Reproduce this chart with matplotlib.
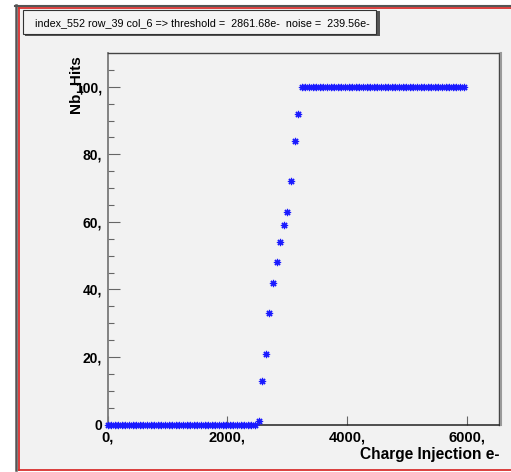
import matplotlib
matplotlib.use("Agg")
import matplotlib.pyplot as plt
from matplotlib.lines import Line2D
from matplotlib.patches import Rectangle

# ─── data: S-curve of one pixel ───
charge = [
    0, 60, 120, 180, 240, 300, 360, 420, 480, 540,
    600, 660, 720, 780, 840, 900, 960, 1020, 1080, 1140,
    1200, 1260, 1320, 1380, 1440, 1500, 1560, 1620, 1680, 1740,
    1800, 1860, 1920, 1980, 2040, 2100, 2160, 2220, 2280, 2340,
    2400, 2460, 2520, 2580, 2640, 2700, 2760, 2820, 2880, 2940,
    3000, 3060, 3120, 3180, 3240, 3300, 3360, 3420, 3480, 3540,
    3600, 3660, 3720, 3780, 3840, 3900, 3960, 4020, 4080, 4140,
    4200, 4260, 4320, 4380, 4440, 4500, 4560, 4620, 4680, 4740,
    4800, 4860, 4920, 4980, 5040, 5100, 5160, 5220, 5280, 5340,
    5400, 5460, 5520, 5580, 5640, 5700, 5760, 5820, 5880, 5940,
]
hits = [
    0, 0, 0, 0, 0, 0, 0, 0, 0, 0,
    0, 0, 0, 0, 0, 0, 0, 0, 0, 0,
    0, 0, 0, 0, 0, 0, 0, 0, 0, 0,
    0, 0, 0, 0, 0, 0, 0, 0, 0, 0,
    0, 0, 1, 13, 21, 33, 42, 48, 54, 59,
    63, 72, 84, 92, 100, 100, 100, 100, 100, 100,
    100, 100, 100, 100, 100, 100, 100, 100, 100, 100,
    100, 100, 100, 100, 100, 100, 100, 100, 100, 100,
    100, 100, 100, 100, 100, 100, 100, 100, 100, 100,
    100, 100, 100, 100, 100, 100, 100, 100, 100, 100,
]
x_ticks = [0, 2000, 4000, 6000]
x_labels = ["0,", "2000,", "4000,", "6000,"]
y_ticks = [0, 20, 40, 60, 80, 100]
y_labels = ["0", "20,", "40,", "60,", "80,", "100,"]
title = "index_552 row_39 col_6 => threshold =  2861.68e-  noise =  239.56e-"

# ─── colours ───
BG = "#f2f2f2"
RED = "#d8302e"
BLUE = "#1a1aff"
FRAME = "#333333"

W, H = 511, 472
plt.rcParams["font.family"] = ["Liberation Sans", "DejaVu Sans"]


def fx(px):
    return px / W


def fy(py):
    return 1 - py / H


fig = plt.figure(figsize=(W / 100, H / 100), dpi=100, facecolor="white")

# canvas background + borders (ROOT style)
fig.add_artist(Rectangle((fx(16), fy(470)), fx(W) - fx(16), fy(5) - fy(470),
                         transform=fig.transFigure, fc=BG, ec="none", zorder=0))
fig.add_artist(Line2D([fx(15.5), fx(15.5)], [fy(5), fy(470)], transform=fig.transFigure,
                      color="#555555", lw=1.8, zorder=1))
fig.add_artist(Line2D([fx(15), fx(W)], [fy(5.5), fy(5.5)], transform=fig.transFigure,
                      color="#555555", lw=1.5, zorder=1))
fig.add_artist(Line2D([fx(18.5), fx(18.5)], [fy(7.5), fy(469.5)], transform=fig.transFigure,
                      color=RED, lw=1.3, zorder=1))
fig.add_artist(Line2D([fx(18.5), fx(W)], [fy(7.5), fy(7.5)], transform=fig.transFigure,
                      color=RED, lw=1.3, zorder=1))
fig.add_artist(Line2D([fx(18.5), fx(W)], [fy(469.5), fy(469.5)], transform=fig.transFigure,
                      color=RED, lw=1.3, zorder=1))

# title pave with shadow
fig.add_artist(Rectangle((fx(25), fy(35.5)), fx(378) - fx(23), fy(11) - fy(35.5),
                         transform=fig.transFigure, fc="#555555", ec="none", zorder=2))
fig.add_artist(Rectangle((fx(23), fy(34)), fx(376) - fx(23), fy(10) - fy(34),
                         transform=fig.transFigure, fc="#f4f4f4", ec=FRAME, lw=0.8, zorder=3))
fig.text(fx(202), fy(23), title, fontsize=7.75, ha="center", va="center",
         color="black", zorder=4)

# ─── axes ───
ax = fig.add_axes([fx(107.5), fy(424.5), fx(499.3) - fx(107.5), fy(53) - fy(424.5)])
ax.set_facecolor(BG)
ax.set_xlim(0, 6534)
ax.set_ylim(0, 110)

ax.plot(charge, hits, ls="none", marker=(8, 2, 0), ms=5.2, mew=0.85,
        color=BLUE, clip_on=False, zorder=5)

for side, col, lw in [("left", "#7a7a7a", 1.3), ("bottom", "#222222", 1.1),
                      ("top", "#444444", 1.0), ("right", "#444444", 1.0)]:
    ax.spines[side].set_color(col)
    ax.spines[side].set_linewidth(lw)
fig.add_artist(Line2D([fx(500.5), fx(500.5)], [fy(424.5), fy(53)], transform=fig.transFigure,
                      color="#9a9a9a", lw=1.5, zorder=1))

ax.set_xticks(x_ticks)
ax.set_xticklabels(x_labels, fontweight="bold", fontsize=10.5)
ax.set_yticks(y_ticks)
ax.set_yticklabels(y_labels, fontweight="bold", fontsize=10)
ax.set_yticks(range(5, 110, 5), minor=True)
ax.tick_params(axis="x", direction="in", length=6.5, width=0.8, color="#666666", pad=4)
ax.tick_params(axis="y", which="major", direction="in", length=8.5, width=0.8,
               color="#666666", pad=4)
ax.tick_params(axis="y", which="minor", direction="in", length=4.3, width=0.8,
               color="#666666")

# ROOT puts the y title at the top end of the axis, over the "100," label
ax.text(-0.08, 0.995, "Nb_Hits", rotation=90, ha="center", va="top",
        transform=ax.transAxes, fontsize=11, fontweight="bold")
ax.text(1.0, -0.082, "Charge Injection e-", ha="right", va="center",
        transform=ax.transAxes, fontsize=11.2, fontweight="bold")

fig.savefig("out.png", dpi=100, facecolor="white")
